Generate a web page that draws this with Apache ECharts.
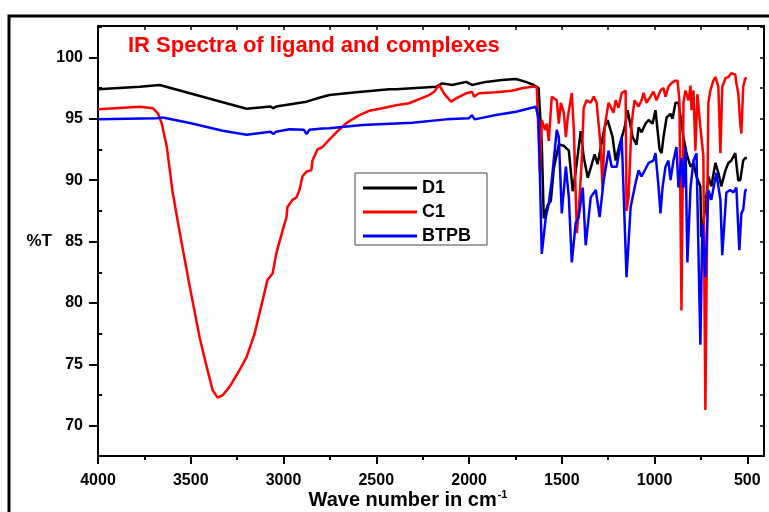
<!DOCTYPE html>
<html>
<head>
<meta charset="utf-8">
<script src="https://cdn.jsdelivr.net/npm/echarts@6/dist/echarts.min.js"></script>
<style>
html,body{margin:0;padding:0;background:#fff;}
#chart{width:769px;height:512px;}
</style>
</head>
<body>
<div id="chart"></div>
<script>
// ---------- data ----------
const seriesNames = ['D1', 'C1', 'BTPB'];

const d1Wave = [4000,3774,3667,3505,3328,3199,3070,3054,3040,2876,2807,2753,2608,2430,2393,2178,2145,2091,2016,1984,1909,1823,1747,1694,1651,1625,1608,1597,1575,1559,1543,1516,1489,1462,1441,1425,1398,1382,1360,1344,1323,1307,1290,1269,1253,1226,1210,1188,1161,1145,1118,1097,1086,1070,1049,1032,1011,995,973,962,952,935,914,903,887,871,844,828,806,790,774,753,748,726,710,694,672,656,640,618,602,586,565,549,538,522,511,502];
const d1T = [97.4,97.6,97.75,97.07,96.34,95.82,96.0,95.85,96.0,96.39,96.71,96.93,97.15,97.4,97.4,97.6,97.88,97.75,98.0,97.75,98.0,98.15,98.23,98.0,97.75,97.5,93.0,86.9,88.0,88.3,91.0,92.9,92.8,92.4,89.1,90.7,94.0,91.9,90.2,91.0,92.1,91.3,92.7,94.3,94.9,93.5,91.6,92.9,94.3,95.7,93.5,92.9,94.3,93.9,94.6,94.9,94.6,95.7,92.5,92.2,93.5,95.1,95.4,95.0,96.3,96.3,93.5,92.2,91.1,91.4,90.3,89.5,85.4,87.8,90.3,89.5,91.4,90.6,89.5,90.8,91.4,91.6,92.2,90.0,90.0,91.6,91.8,91.8];

const c1Wave = [4000,3774,3704,3694,3677,3656,3629,3597,3559,3505,3452,3414,3382,3355,3328,3290,3237,3199,3156,3113,3086,3059,3038,3005,2984,2979,2952,2930,2914,2898,2876,2850,2844,2817,2790,2753,2715,2661,2591,2538,2468,2393,2323,2269,2215,2188,2178,2161,2135,2097,2070,2016,1984,1973,1946,1855,1769,1715,1661,1635,1618,1608,1591,1581,1570,1554,1527,1516,1505,1489,1478,1468,1446,1435,1419,1409,1393,1382,1366,1344,1328,1312,1290,1280,1269,1248,1221,1210,1194,1177,1156,1151,1140,1124,1108,1086,1070,1059,1043,1022,1006,989,968,952,941,925,909,887,876,866,855,844,833,817,806,801,790,780,769,753,737,726,710,699,683,672,656,645,635,618,602,586,565,559,549,538,532,522,511,502];
const c1T = [95.77,95.98,95.85,95.7,95.44,94.6,92.7,88.95,85.7,81.3,77.2,74.8,72.9,72.3,72.5,73.2,74.55,75.6,77.5,80.2,81.9,82.4,84.1,85.9,87.0,87.8,88.4,88.6,89.2,90.3,90.7,90.8,91.6,92.5,92.7,93.3,93.9,94.65,95.3,95.65,95.85,96.1,96.26,96.6,96.93,97.2,97.07,97.75,97.07,96.39,96.66,97.07,97.2,96.8,97.07,97.15,97.28,97.48,97.6,97.6,90.6,94.9,94.1,94.6,93.2,96.8,96.5,94.6,96.3,95.5,93.5,95.1,97.1,94.1,85.7,87.3,91.4,95.9,96.5,96.3,96.8,96.3,92.7,89.2,94.3,96.3,95.5,96.5,95.9,97.1,97.3,87.5,88.6,94.6,96.5,96.0,96.5,97.1,96.3,96.8,97.2,96.5,97.3,97.5,96.8,97.6,97.9,98.1,98.1,96.5,79.4,96.3,97.3,96.5,97.7,95.7,97.3,92.4,97.0,94.3,92.0,71.3,96.3,97.3,98.1,98.4,97.6,92.2,97.6,98.3,98.4,98.7,98.6,97.9,97.1,94.6,93.8,97.6,98.3,98.3];

const btpbWave = [4000,3683,3651,3505,3328,3199,3070,3054,3040,2968,2890,2876,2860,2790,2753,2575,2307,2124,2000,1984,1970,1855,1747,1640,1625,1608,1586,1570,1554,1527,1516,1500,1478,1462,1446,1425,1409,1387,1371,1344,1317,1296,1274,1248,1231,1204,1177,1151,1129,1102,1086,1070,1032,1006,995,978,968,957,941,925,914,898,882,871,855,844,833,823,806,790,774,753,742,726,710,694,667,645,635,613,592,575,559,543,532,522,511,502];
const btpbT = [94.95,95.04,95.1,94.65,94.03,93.7,93.95,93.76,93.95,94.14,94.1,93.76,94.1,94.2,94.22,94.5,94.68,94.95,95.05,95.3,94.95,95.3,95.57,95.98,95.0,84.0,87.0,88.1,90.0,94.1,93.5,87.3,91.1,88.6,83.3,86.5,87.0,89.4,84.7,88.6,89.2,87.0,90.0,92.4,91.1,91.1,93.5,82.1,87.8,89.8,90.8,90.3,91.4,91.6,92.2,89.4,87.3,89.4,91.1,91.6,90.0,91.6,92.7,89.4,91.8,89.4,92.7,83.3,89.4,91.6,92.2,76.6,86.5,82.1,89.2,88.4,90.6,88.4,83.9,89.0,89.2,89.0,89.4,84.3,87.3,87.6,89.2,89.2];

// tick labels / tick positions
const xTickLabels = [500,1000,1500,2000,2500,3000,3500,4000];
const xMinorTicks = [750,1250,1750,2250,2750,3250,3750];
const xTopTicks = [500,750,1000,1250,1500,1750,2000,2250,2500,2750,3000,3250,3500,3750,4000];
const yTickLabels = [70,75,80,85,90,95,100];
const yMinorTicks = [72.5,77.5,82.5,87.5,92.5,97.5,102.5];
const yRightTicks = [70,72.5,75,77.5,80,82.5,85,87.5,90,92.5,95,97.5,100,102.5];

const titleText = 'IR Spectra of ligand and complexes';
const xName = 'Wave number in cm';
const xNameSup = '-1';
const yName = '%T';

// ---------- chart ----------
const FONT = '"Liberation Sans", Arial, sans-serif';
const X_MIN = 410, X_MAX = 4000, Y_MIN = 67.55, Y_MAX = 102.55;
const pair = (w, t) => w.map((v, i) => [v, t[i]]);
const plain = v => String(v);

const baseX = {type: 'value', inverse: true, min: X_MIN, max: X_MAX, splitLine: {show: false}};
const baseY = {type: 'value', min: Y_MIN, max: Y_MAX, splitLine: {show: false}};

const chart = echarts.init(document.getElementById('chart'), null, {renderer: 'canvas'});
chart.setOption({
  animation: false,
  backgroundColor: '#fff',
  title: {
    text: titleText, left: 128, top: 35, padding: 0,
    textStyle: {color: '#ff0000', fontSize: 22, fontWeight: 'bold', fontFamily: FONT}
  },
  graphic: [{
    type: 'rect', z: 100, silent: true,
    shape: {x: 9, y: 16, width: 800, height: 600},
    style: {fill: null, stroke: '#000', lineWidth: 3}
  }],
  legend: {
    data: seriesNames, orient: 'vertical', left: 355, top: 173,
    padding: [6, 16, 0, 8], itemGap: 6, itemWidth: 54, itemHeight: 3,
    icon: 'rect', borderColor: '#444', borderWidth: 1, backgroundColor: '#fff',
    textStyle: {color: '#000', fontSize: 18, fontWeight: 'bold', fontFamily: FONT}
  },
  grid: {left: 98, right: 5, top: 26, bottom: 56, containLabel: false, outerBoundsMode: 'none'},
  xAxis: [
    Object.assign({}, baseX, {
      position: 'bottom',
      axisLine: {lineStyle: {color: '#000', width: 2}},
      axisTick: {customValues: xTickLabels, length: 8, lineStyle: {color: '#000', width: 2}},
      axisLabel: {customValues: xTickLabels, formatter: plain, margin: 17, color: '#000', fontSize: 16, fontWeight: 'bold', fontFamily: FONT},
      name: '{a|' + xName + '}{b|' + xNameSup + '}',
      nameLocation: 'middle', nameGap: 33, nameMoveOverlap: false,
      nameTextStyle: {
        padding: [0, 46, 0, 0],
        rich: {
          a: {fontSize: 20, fontWeight: 'bold', color: '#000', fontFamily: FONT},
          b: {fontSize: 11, fontWeight: 'bold', color: '#000', fontFamily: FONT, padding: [0, 0, 12, 1]}
        }
      }
    }),
    Object.assign({}, baseX, {
      position: 'bottom',
      axisLine: {show: false},
      axisTick: {customValues: xMinorTicks, length: 4, lineStyle: {color: '#000', width: 2}},
      axisLabel: {show: false}
    }),
    Object.assign({}, baseX, {
      position: 'top',
      axisLine: {lineStyle: {color: '#000', width: 2}},
      axisTick: {inside: true, customValues: xTopTicks, length: 4, lineStyle: {color: '#000', width: 1.5}},
      axisLabel: {show: false}
    })
  ],
  yAxis: [
    Object.assign({}, baseY, {
      position: 'left',
      axisLine: {show: true, lineStyle: {color: '#000', width: 2}},
      axisTick: {show: true, customValues: yTickLabels, length: 9, lineStyle: {color: '#000', width: 2}},
      axisLabel: {customValues: yTickLabels, formatter: plain, margin: 15, color: '#000', fontSize: 16, fontWeight: 'bold', fontFamily: FONT},
      name: yName, nameLocation: 'middle', nameRotate: 0, nameGap: 46, nameMoveOverlap: false,
      nameTextStyle: {color: '#000', fontSize: 17, fontWeight: 'bold', fontFamily: FONT, padding: [10, 0, 0, 0]}
    }),
    Object.assign({}, baseY, {
      position: 'left',
      axisLine: {show: false},
      axisTick: {show: true, inside: true, customValues: yMinorTicks, length: 4, lineStyle: {color: '#000', width: 2}},
      axisLabel: {show: false}
    }),
    Object.assign({}, baseY, {
      position: 'right',
      axisLine: {show: true, lineStyle: {color: '#000', width: 2}},
      axisTick: {show: true, inside: true, customValues: yRightTicks, length: 4, lineStyle: {color: '#000', width: 1.5}},
      axisLabel: {show: false}
    })
  ],
  series: [
    {name: seriesNames[0], type: 'line', data: pair(d1Wave, d1T), showSymbol: false, symbol: 'none',
     lineStyle: {color: '#000000', width: 2.5}, itemStyle: {color: '#000000'}, xAxisIndex: 0, yAxisIndex: 0},
    {name: seriesNames[1], type: 'line', data: pair(c1Wave, c1T), showSymbol: false, symbol: 'none',
     lineStyle: {color: '#ff0000', width: 2.5}, itemStyle: {color: '#ff0000'}, xAxisIndex: 0, yAxisIndex: 0},
    {name: seriesNames[2], type: 'line', data: pair(btpbWave, btpbT), showSymbol: false, symbol: 'none',
     lineStyle: {color: '#0000ff', width: 2.5}, itemStyle: {color: '#0000ff'}, xAxisIndex: 0, yAxisIndex: 0}
  ]
});
</script>
</body>
</html>
